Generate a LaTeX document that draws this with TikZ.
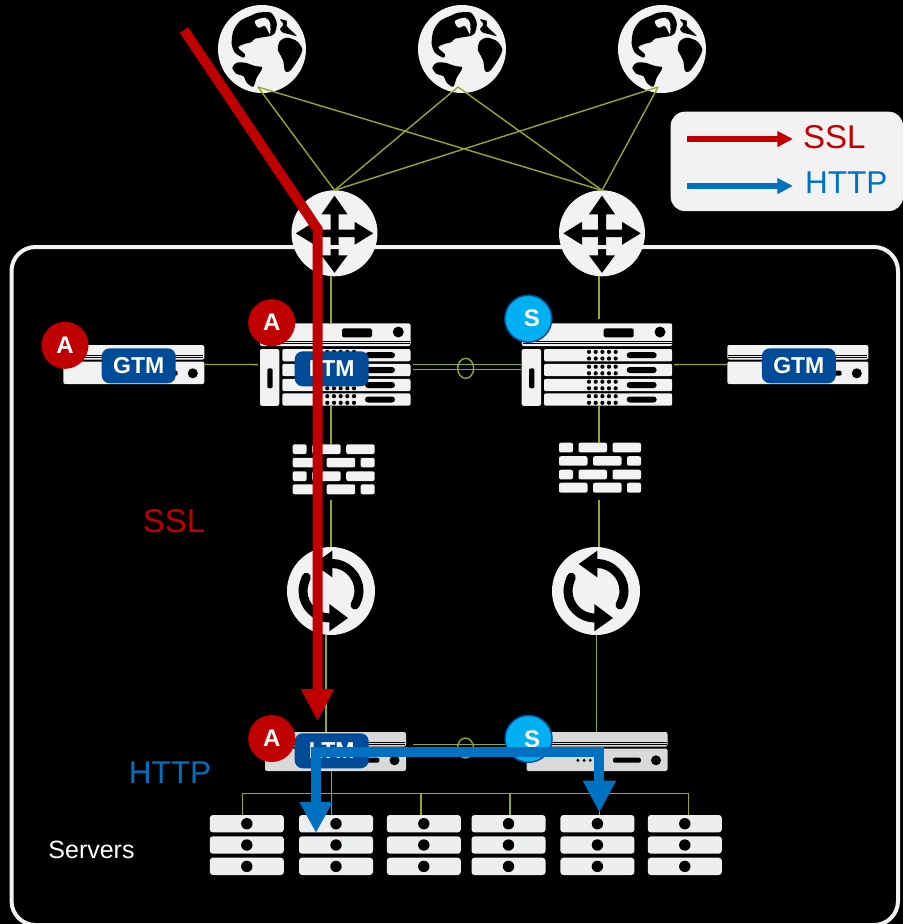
\documentclass[tikz,border=0pt]{standalone}
\usepackage{fontspec}
\setmainfont{Liberation Sans}
\usetikzlibrary{arrows.meta,shapes.geometric}
\definecolor{iconwhite}{RGB}{242,242,242}
\definecolor{lowgrey}{RGB}{217,217,217}
\definecolor{serverwhite}{RGB}{237,238,240}
\definecolor{linkgreen}{RGB}{146,168,40}
\definecolor{sslred}{RGB}{192,0,0}
\definecolor{httpblue}{RGB}{0,112,192}
\definecolor{tagblue}{RGB}{0,75,151}
\definecolor{standbyblue}{RGB}{0,176,240}
\tikzset{%
    hull/.style={draw=none,inner sep=0pt,outer sep=0pt},
    plate/.style={fill=iconwhite,rounded corners=2pt},
    tag/.style={fill=tagblue,rounded corners=8pt,text=white,inner sep=0pt,
        minimum width=74pt,minimum height=35pt,font=\fontsize{23}{25}\selectfont\bfseries},
    active/.style={circle,fill=sslred,text=white,inner sep=0pt,minimum size=47pt,
        font=\fontsize{24}{26}\selectfont\bfseries},
    standby/.style={active,fill=standbyblue,draw=tagblue,line width=1.5pt},
    link/.style={draw=linkgreen,line width=1.4pt},
    ring/.style={ellipse,draw=linkgreen,line width=1.4pt,inner sep=0pt,
        minimum width=16pt,minimum height=20pt},
    pics/globe/.style={code={
        \node[hull,circle,minimum size=88pt,fill=iconwhite] (-b) at (0,0) {};
        \fill[black] plot[smooth cycle,tension=0.5] coordinates {(-30.3,-4.7) (-28.7,-18) (-22,-28) (-10.3,-33.7)
            (-3.7,-36.3) (9,-36.3) (14.7,-26.3) (13,-16.3) (8,-13) (-7,-10.3) (-10.3,-7) (-18.7,-4.7) (-23.7,-1.3)
            (-17,5.3) (-18.7,8.7) (-27,3.7)};
        \fill[iconwhite] plot[smooth cycle,tension=0.5] coordinates {(-7,-28) (3,-31.3) (8,-26.3) (8,-14.7) (3,-23) (-3.7,-21.3)};
        \fill[black] plot[smooth cycle,tension=0.5] coordinates {(-29.7,18.7) (-25.3,13.7) (-17,13.7) (-7,17) (0.3,18.7)
            (-5.3,28.7) (-8.7,37.7) (-15.3,33.7) (-18.7,27) (-25.3,25)};
        \fill[black] plot[smooth cycle,tension=0.5] coordinates {(15.7,0.3) (18,-8) (24.7,-11.3) (34.7,-8) (40.3,0.3)
            (36.3,10.3) (28,22) (23,22) (21.3,12) (18,5.3)};
        \fill[black] plot[smooth cycle,tension=0.5] coordinates {(18,-29.7) (24.7,-28) (24.7,-23) (29.7,-18) (34.7,-13)
            (28,-14.7) (21.3,-16.3) (18,-19.7) (21.3,-24.7)};
    }},
    pics/router/.style={code={
        \node[hull,circle,minimum size=86pt,fill=iconwhite] (-b) at (0,0) {};
        \fill[black] (0,-37.7) -- (13,-19) -- (4,-19) -- (4,-3.7) -- (20,-3.7) -- (20,-11.5) -- (38.7,0)
            -- (20,11.5) -- (20,3.7) -- (4,3.7) -- (4,22) -- (13,22) -- (0,39.5) -- (-13,22) -- (-4,22)
            -- (-4,3.7) -- (-20,3.7) -- (-20,11.5) -- (-38.7,0) -- (-20,-11.5) -- (-20,-3.7) -- (-4,-3.7)
            -- (-4,-19) -- (-13,-19) -- cycle;
    }},
    pics/syncer/.style={code={
        \node[hull,circle,minimum size=88pt,fill=iconwhite] (-b) at (0,0) {};
        \draw[black,line width=9pt,line cap=round] (24,14) .. controls (27,8) and (28,4) .. (28,0)
            .. controls (28,-15) and (15.5,-27.5) .. (1.3,-27.5);
        \draw[black,line width=9pt,line cap=round] (-24.7,-13.7) .. controls (-27,-8) and (-28,-4) .. (-28,0)
            .. controls (-28,15) and (-15.5,27) .. (-1.3,27);
        \fill[black] (-17.3,-27) -- (1.3,-40.3) -- (1.3,-13.7) -- cycle;
        \fill[black] (17,27) -- (-1.7,13) -- (-1.7,40.3) -- cycle;
    }},
    pics/brickwall/.style={code={
        \node[hull,minimum width=82pt,minimum height=50pt] (-b) at (41,25) {};
        \fill[plate] (0,0) rectangle (14,9.7) (19.5,0) rectangle (48,9.7) (53.5,0) rectangle (82,9.7);
        \fill[plate] (0,13.5) rectangle (28.5,23) (34,13.5) rectangle (62.5,23) (68,13.5) rectangle (82,23);
        \fill[plate] (0,27) rectangle (14,36.7) (19.5,27) rectangle (48,36.7) (53.5,27) rectangle (82,36.7);
        \fill[plate] (0,40) rectangle (28.5,50) (34,40) rectangle (62.5,50) (68,40) rectangle (82,50);
    }},
    pics/bladestack/.style={code={
        \node[hull,minimum width=150.5pt,minimum height=82.5pt,anchor=north west] (-b) at (0,0) {};
        \fill[plate] (0,0) rectangle (150.5,22.7);
        \draw[black,line width=0.8pt] (1,18) -- (150,18);
        \draw[black,line width=0.6pt] (1,20) -- (150,20);
        \fill[black,rounded corners=1.5pt] (82,5) rectangle (112,14);
        \fill[black] (138.3,8.7) circle (5.5pt);
        \fill[plate] (0,25.7) rectangle (19.3,82.5);
        \fill[black,rounded corners=2pt] (7.3,45) rectangle (12.7,65);
        \foreach \rowtop in {25.7,40.5,55.5,70} {
            \fill[plate] (22.3,\rowtop) rectangle (150.5,\rowtop+12.4);
            \fill[black,rounded corners=3pt] (105,\rowtop+3.2) rectangle (135,\rowtop+9.2);
            \foreach \dotx in {67.3,74,80.7,87.3,94} {
                \fill[black] (\dotx,\rowtop+2.9) circle (2.1pt);
                \fill[black] (\dotx,\rowtop+9.5) circle (2.1pt);
            }
        }
    }},
    pics/thinbox/.style={code={
        \node[hull,minimum width=141pt,minimum height=39pt,anchor=north west] (-b) at (0,0) {};
        \fill[#1,rounded corners=2pt] (0,0) rectangle (141,14.5);
        \fill[#1,rounded corners=2pt] (0,16.5) rectangle (141,39);
        \draw[black,line width=0.8pt] (1,10) -- (140,10);
        \draw[black,line width=0.6pt] (1,12.5) -- (140,12.5);
        \fill[black] (51.4,28.3) circle (1.6pt) (57.6,28.3) circle (1.6pt) (63.8,28.3) circle (1.6pt);
        \fill[black,rounded corners=2pt] (86.5,25.7) rectangle (114.4,30.7);
        \fill[black] (129.5,28.3) circle (5pt);
    }},
    pics/serverrack/.style={code={
        \node[hull,minimum width=74pt,minimum height=60pt,anchor=north] (-b) at (0,0) {};
        \fill[fill=serverwhite,rounded corners=3pt] (-37,0) rectangle (37,17.4);
        \fill[fill=serverwhite,rounded corners=3pt] (-37,21.3) rectangle (37,38.7);
        \fill[fill=serverwhite,rounded corners=3pt] (-37,42.7) rectangle (37,60);
        \fill[black] (0,8.7) circle (5.7pt) (0,30) circle (5.7pt) (0,51.4) circle (5.7pt);
    }}
}
\begin{document}
\begin{tikzpicture}[x=1pt,y=-1pt]
  \fill[black] (0,0) rectangle (903,924);
  \useasboundingbox (0,0) rectangle (903,924);

  \coordinate (colA) at (331,0);
  \coordinate (colB) at (599,0);
  \coordinate (colC) at (326,0);
  \coordinate (colD) at (596.5,0);
  \coordinate (bus1) at (242.7,793.3);
  \coordinate (bus2) at (331.5,793.3);
  \coordinate (bus3) at (421,793.3);
  \coordinate (bus4) at (510,793.3);
  \coordinate (bus5) at (599.4,793.3);
  \coordinate (bus6) at (688.6,793.3);
  \coordinate (globe1) at (258,87);
  \coordinate (globe2) at (458,87);
  \coordinate (globe3) at (658,87);

  \pic (web1) at (262,49) {globe};
  \pic (web2) at (462,49) {globe};
  \pic (web3) at (662,49) {globe};
  \pic (rtA) at (334.5,233.3) {router};
  \pic (rtB) at (602,233.3) {router};
  \pic (gtmA) at (63.3,345) {thinbox=iconwhite};
  \pic (gtmB) at (727.3,345) {thinbox=iconwhite};
  \pic (ltmA) at (260,323.3) {bladestack};
  \pic (ltmB) at (521.7,323.3) {bladestack};
  \pic (wallA) at (292.7,444.3) {brickwall};
  \pic (wallB) at (559,442.7) {brickwall};
  \pic (syncA) at (331,591) {syncer};
  \pic (syncB) at (596,591) {syncer};
  \pic (lowA) at (265,732) {thinbox=lowgrey};
  \pic (lowB) at (526.5,732) {thinbox=lowgrey};
  \pic (srv1) at (246.8,815) {serverrack};
  \pic (srv2) at (336,815) {serverrack};
  \pic (srv3) at (423.8,815) {serverrack};
  \pic (srv4) at (508.5,815) {serverrack};
  \pic (srv5) at (597.4,815) {serverrack};
  \pic (srv6) at (684.8,815) {serverrack};

  % the site frame runs over the routers
  \draw[iconwhite,line width=4pt,rounded corners=24pt] (11.5,247) rectangle (898,925);
  \fill[iconwhite,rounded corners=14pt] (670.7,111.7) rectangle (903,211);

  \node[ring] (ringU) at (465.7,368.3) {};
  \node[ring] (ringL) at (465.5,748) {};

  \path[link]
    (globe1) edge (rtA-b.north)
    (globe1) edge (rtB-b.north)
    (globe2) edge (rtA-b.north)
    (globe2) edge (rtB-b.north)
    (globe3) edge (rtA-b.north)
    (globe3) edge (rtB-b.north)
    (rtA-b.south -| colA) edge (ltmA-b.north -| colA)
    (rtB-b.south -| colB) edge[shorten >=4pt] (ltmB-b.north -| colB)
    (ltmA-b.south -| colA) edge (wallA-b.north -| colA)
    (ltmB-b.south -| colB) edge (wallB-b.north -| colB)
    (wallA-b.south -| colA) edge[shorten <=6pt] (syncA-b.north -| colA)
    (wallB-b.south -| colB) edge[shorten <=7pt] (syncB-b.north -| colB)
    (syncA-b.south -| colC) edge (lowA-b.north -| colC)
    (syncB-b.south -| colD) edge (lowB-b.north -| colD)
    (gtmA-b.east) edge[shorten >=2pt] (ltmA-b.west)
    (gtmB-b.west) edge[shorten >=2pt] (ltmB-b.east)
    ([yshift=0.3pt]ltmA-b.east) edge[shorten <=2pt,shorten >=1pt] ([yshift=0.3pt]ltmB-b.west)
    ([yshift=-5.1pt]ltmA-b.east) edge[shorten <=2pt,shorten >=1pt] ([yshift=-5.1pt]ltmB-b.west)
    ([yshift=7.2pt]lowA-b.east) edge[shorten <=7pt] ([yshift=7.2pt]lowB-b.west)
    (bus1) edge (bus6)
    (bus1) edge (srv1-b.north -| bus1)
    (bus2) edge (srv2-b.north -| bus2)
    (bus3) edge (srv3-b.north -| bus3)
    (bus4) edge (srv4-b.north -| bus4)
    (bus5) edge (srv5-b.north -| bus5)
    (bus6) edge (srv6-b.north -| bus6)
    (lowA-b.south -| bus2) edge (bus2);

  \node[tag] (tagG1) at (138.7,365.8) {GTM};
  \node[tag] (tagL1) at (331.7,368.8) {LTM};
  \node[tag] (tagG2) at (798.8,365.8) {GTM};
  \node[tag] (tagL2) at (331.7,750.8) {LTM};

  \node[active] (stG1) at (65,345.3) {\raisebox{-1pt}{A}};
  \node[active] (stL1) at (271.7,322.7) {\raisebox{-1pt}{A}};
  \node[standby] (stL2) at (528.3,318.7) {\raisebox{-3pt}{\kern7pt S}};
  \node[active] (stL3) at (271.7,738.5) {\raisebox{-2pt}{A}};
  \node[standby] (stL4) at (528.5,738.8) {\raisebox{-4pt}{\kern7pt S}};

  \node[text=sslred,font=\fontsize{33}{36}\selectfont] (sslnote) at (174,521) {SSL};
  \node[text=httpblue,font=\fontsize{31.5}{36}\selectfont] (httpnote) at (170,773) {HTTP};
  \node[text=white,font=\fontsize{25}{28}\selectfont] (servers) at (91.5,850) {Servers};
  \node[text=sslred,font=\fontsize{33}{36}\selectfont,anchor=west,inner sep=0pt] (sslkey) at (803,137) {SSL};
  \node[text=httpblue,font=\fontsize{31.5}{36}\selectfont,anchor=west,inner sep=0pt] (httpkey) at (805,183) {HTTP};

  \coordinate (keyR) at (687,139);
  \coordinate (keyB) at (687,186);
  \draw[-{Triangle[length=15.7pt,width=15pt]},sslred,line width=5.5pt,shorten >=10pt] (keyR) -- (keyR -| sslkey.west);
  \draw[-{Triangle[length=15.7pt,width=15pt]},httpblue,line width=5.5pt,shorten >=12pt] (keyB) -- (keyB -| httpkey.west);

  \coordinate (sslA) at (184,30);
  \coordinate (sslB) at (317.5,229);
  \coordinate (sslC) at (317.5,721);
  \draw[-{Triangle[length=32pt,width=31pt]},sslred,line width=10pt] (sslA) -- (sslB) -- (sslC);

  \coordinate (httpA) at (316,833);
  \coordinate (httpB) at (599.4,812.7);
  \draw[{Triangle[length=31pt,width=31pt]}-{Triangle[length=32pt,width=31pt]},httpblue,line width=10pt]
    (httpA) |- (316,752) -| (httpB);
\end{tikzpicture}
\end{document}
